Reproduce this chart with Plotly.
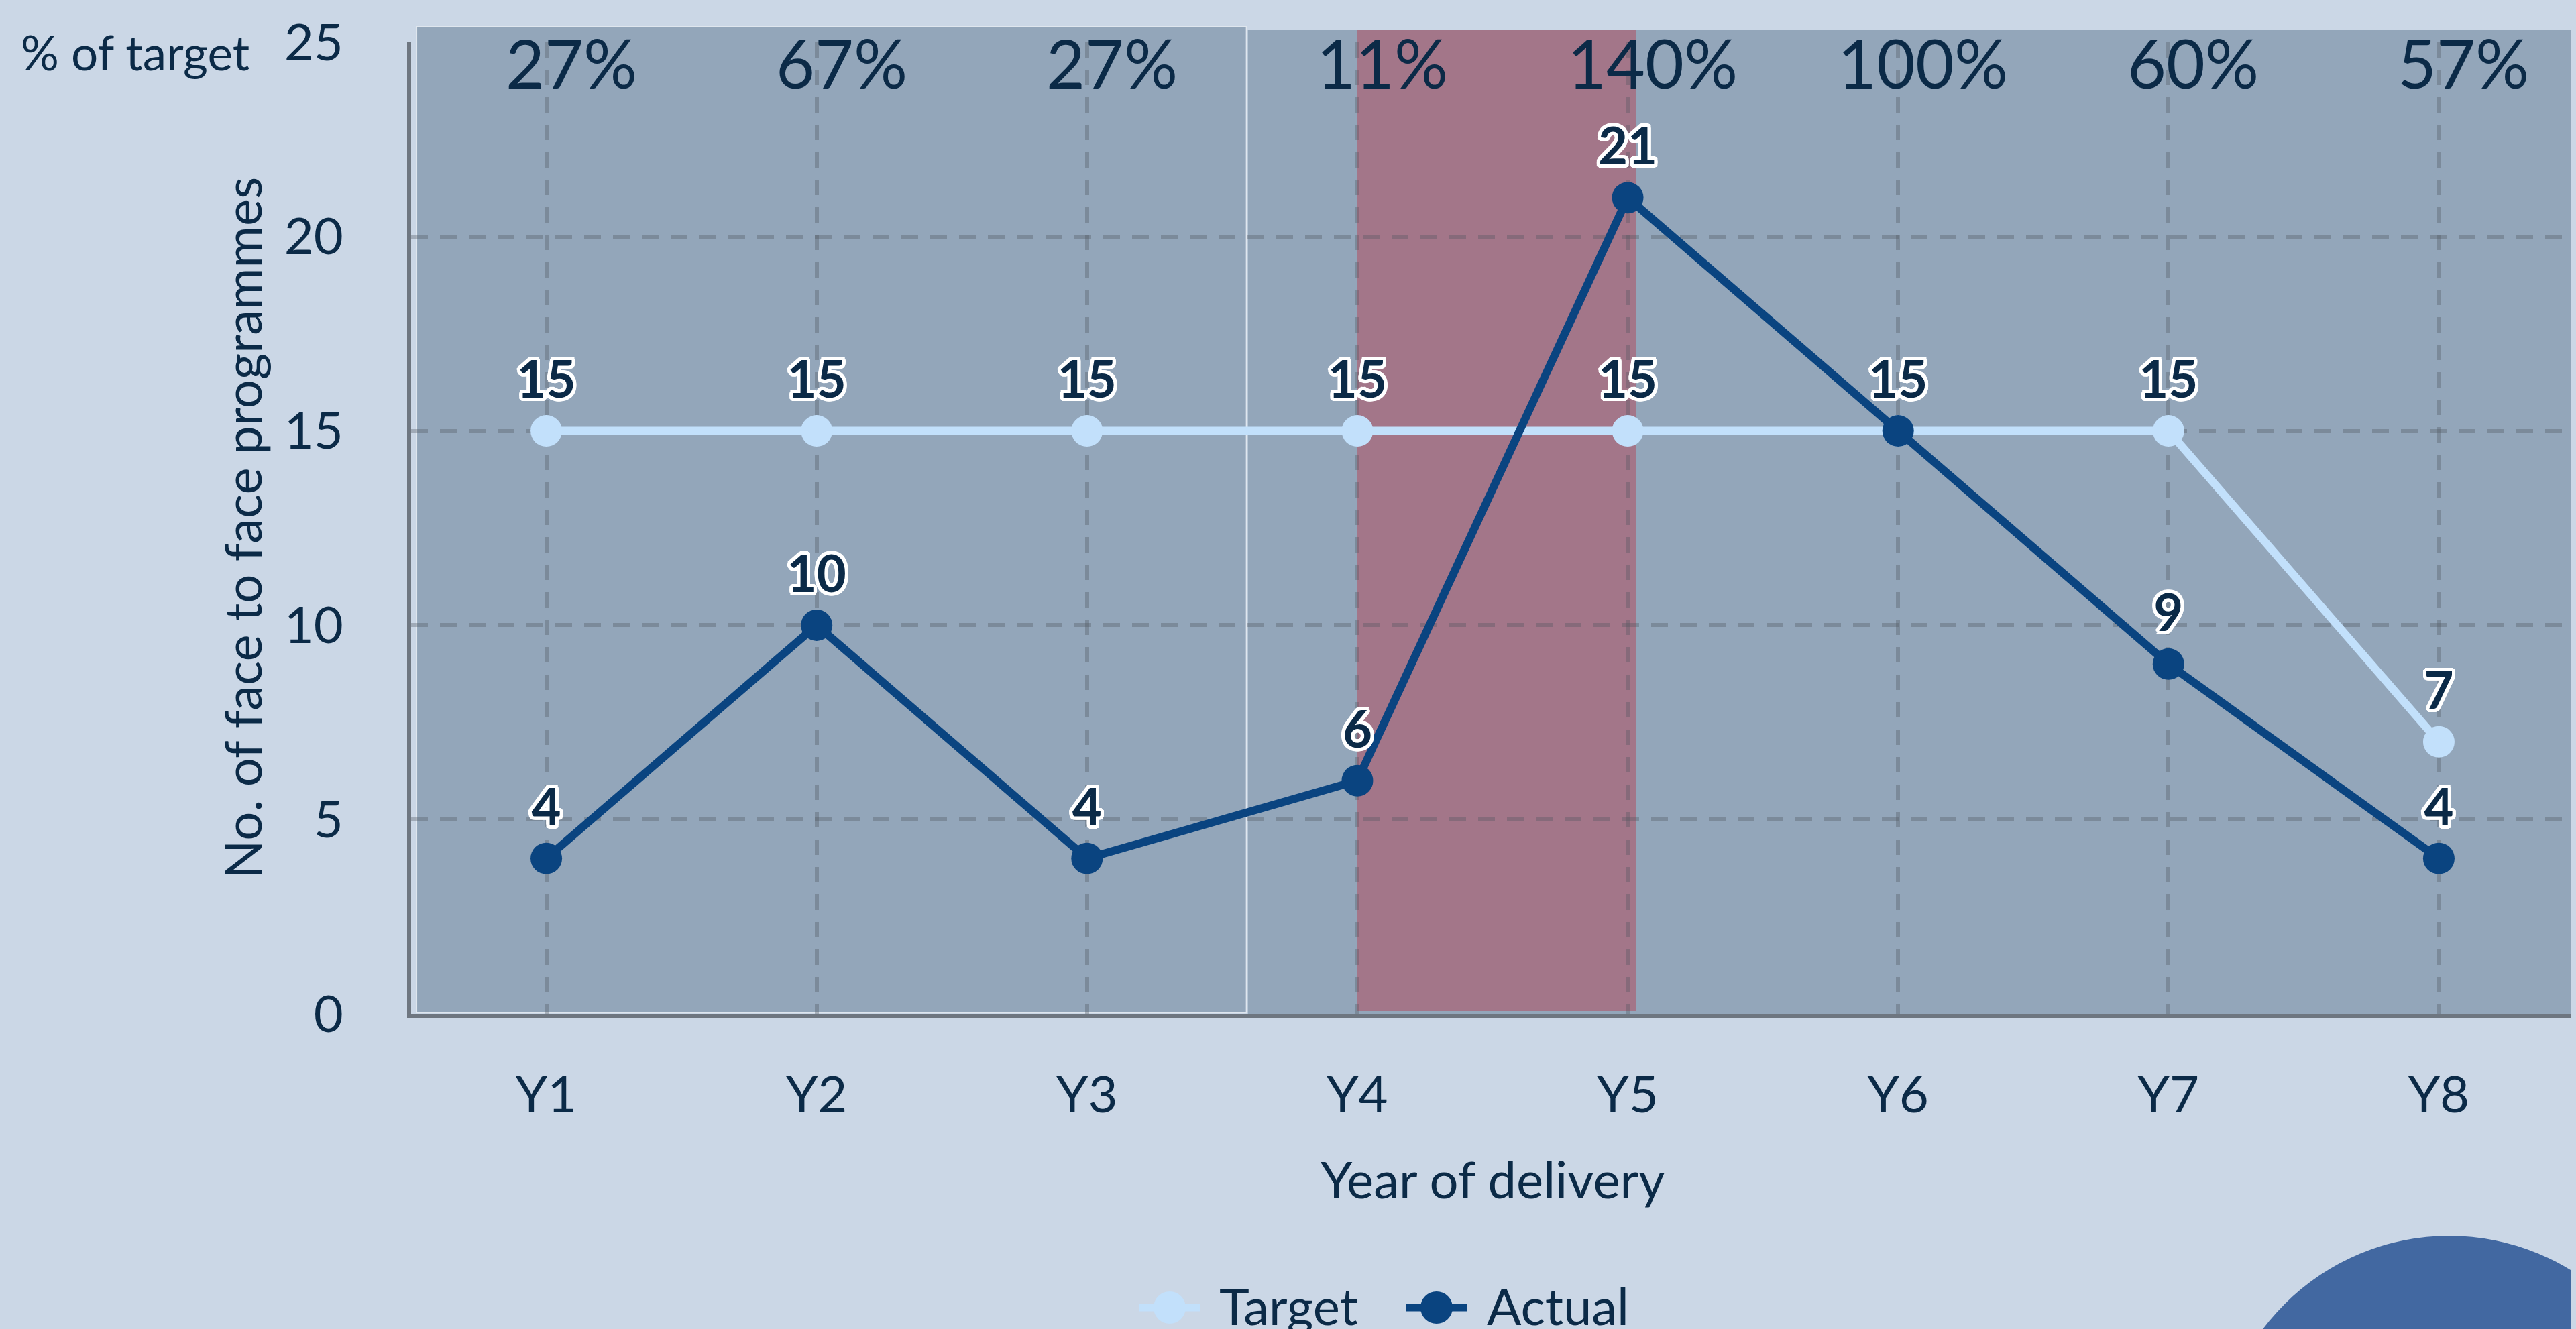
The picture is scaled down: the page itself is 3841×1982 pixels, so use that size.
import plotly.graph_objects as go

# ---- data ----
years = ["Y1", "Y2", "Y3", "Y4", "Y5", "Y6", "Y7", "Y8"]
target = [15, 15, 15, 15, 15, 15, 15, 7]
actual = [4, 10, 4, 6, 21, 15, 9, 4]
pct_of_target = ["27%", "67%", "27%", "11%", "140%", "100%", "60%", "57%"]

# ---- geometry / style ----
W, H = 3841, 1982
OFF = 8  # page body margin offset
L, R, T, B = 605, 11, 55, 478
PW, PH = W - L - R, H - T - B
XR = [-0.5, 7.5]
YR = [0, 25]

BG = "#cbd7e6"
PANEL = "#93a6ba"
RED = "#a37689"
NAVY = "#0b2a47"
TARGET_C = "#c2e0fb"
ACTUAL_C = "#0a4480"
AXIS_C = "#6e7680"
FONT = "Lato"


def px_x(px):
    return (px - OFF - L) / PW


def px_y(py):
    return (H - B - (py - OFF)) / PH


def dx(v):
    return (v - XR[0]) / (XR[1] - XR[0])


s = 5
outline = ", ".join(f"white {a}px {b}px 0px" for a, b in [
    (s, 0), (-s, 0), (0, s), (0, -s), (4, 4), (-4, 4), (4, -4), (-4, -4),
    (2, 5), (-2, 5), (2, -5), (-2, -5), (5, 2), (-5, 2), (5, -2), (-5, -2)])

fig = go.Figure()

fig.add_trace(go.Scatter(
    x=years, y=target, name="Target", mode="lines+markers+text",
    line=dict(color=TARGET_C, width=12),
    marker=dict(color=TARGET_C, size=47),
    text=[str(v) for v in target], textposition="top center",
    textfont=dict(family=FONT, size=76, color=NAVY, weight=700, shadow=outline),
    cliponaxis=False, showlegend=False,
))
fig.add_trace(go.Scatter(
    x=years, y=actual, name="Actual", mode="lines+markers+text",
    line=dict(color=ACTUAL_C, width=12),
    marker=dict(color=ACTUAL_C, size=47),
    text=[str(v) for v in actual], textposition="top center",
    textfont=dict(family=FONT, size=76, color=NAVY, weight=700, shadow=outline),
    cliponaxis=False, showlegend=False,
))

shapes = [
    # background bands
    dict(type="rect", xref="paper", yref="paper", layer="below",
         x0=dx(-0.48), x1=dx(2.59), y0=px_y(1510), y1=px_y(40),
         fillcolor=PANEL, line=dict(color="#dfe6ee", width=2)),
    dict(type="rect", xref="paper", yref="paper", layer="below",
         x0=dx(2.595), x1=1.0, y0=0, y1=px_y(45),
         fillcolor=PANEL, line=dict(width=0)),
    dict(type="rect", xref="paper", yref="paper", layer="below",
         x0=dx(3.0), x1=dx(4.03), y0=px_y(1508), y1=px_y(44),
         fillcolor=RED, line=dict(width=0)),
    # decorative circle
    dict(type="circle", xref="paper", yref="paper", layer="below",
         x0=px_x(3305), x1=px_x(3999), y0=px_y(2537), y1=px_y(1843),
         fillcolor="#4268a1", line=dict(width=0)),
    # custom legend symbols
    dict(type="line", xref="paper", yref="paper",
         x0=px_x(1698), x1=px_x(1790), y0=px_y(1950), y1=px_y(1950),
         line=dict(color=TARGET_C, width=11)),
    dict(type="circle", xref="paper", yref="paper",
         x0=px_x(1744 - 24), x1=px_x(1744 + 24), y0=px_y(1950 + 24), y1=px_y(1950 - 24),
         fillcolor=TARGET_C, line=dict(width=0)),
    dict(type="line", xref="paper", yref="paper",
         x0=px_x(2096), x1=px_x(2188), y0=px_y(1950), y1=px_y(1950),
         line=dict(color=ACTUAL_C, width=11)),
    dict(type="circle", xref="paper", yref="paper",
         x0=px_x(2142 - 24), x1=px_x(2142 + 24), y0=px_y(1950 + 24), y1=px_y(1950 - 24),
         fillcolor=ACTUAL_C, line=dict(width=0)),
]

annotations = []
for yr, p in zip(years, pct_of_target):
    annotations.append(dict(
        x=yr, xref="x", y=px_y(93), yref="paper", text=p, showarrow=False,
        xanchor="center", yanchor="middle", xshift=37,
        font=dict(family=FONT, size=100, color=NAVY)))

annotations += [
    dict(x=px_x(29), y=px_y(77), xref="paper", yref="paper", text="% of target",
         showarrow=False, xanchor="left", yanchor="middle",
         font=dict(family=FONT, size=71, color=NAVY)),
    dict(x=0.5, y=px_y(1757), xref="paper", yref="paper", text="Year of delivery",
         showarrow=False, xanchor="center", yanchor="middle",
         font=dict(family=FONT, size=76, color=NAVY)),
    dict(x=px_x(360), y=0.5, xref="paper", yref="paper", text="No. of face to face programmes",
         showarrow=False, xanchor="center", yanchor="middle", textangle=-90,
         font=dict(family=FONT, size=76, color=NAVY)),
    dict(x=px_x(1816), y=px_y(1946), xref="paper", yref="paper", text="Target",
         showarrow=False, xanchor="left", yanchor="middle",
         font=dict(family=FONT, size=76, color=NAVY)),
    dict(x=px_x(2215), y=px_y(1946), xref="paper", yref="paper", text="Actual",
         showarrow=False, xanchor="left", yanchor="middle",
         font=dict(family=FONT, size=76, color=NAVY)),
]

grid_c = "rgba(80,85,95,0.35)"
fig.update_layout(
    width=W, height=H,
    margin=dict(l=L, r=R, t=T, b=B, autoexpand=False),
    paper_bgcolor=BG, plot_bgcolor="rgba(0,0,0,0)",
    font=dict(family=FONT, color=NAVY),
    shapes=shapes, annotations=annotations, showlegend=False,
    xaxis=dict(
        type="category", range=XR, showgrid=True, gridcolor=grid_c, gridwidth=6,
        griddash="23px,18px", showline=True, linecolor=AXIS_C, linewidth=6,
        ticks="", tickfont=dict(family=FONT, size=76, color=NAVY),
        ticklabelstandoff=50, zeroline=False, fixedrange=True,
    ),
    yaxis=dict(
        range=YR, tickvals=[0, 5, 10, 15, 20, 25], showgrid=True, gridcolor=grid_c,
        gridwidth=6, griddash="25px,18px", showline=True, linecolor=AXIS_C, linewidth=6,
        ticks="", tickfont=dict(family=FONT, size=76, color=NAVY),
        ticklabelstandoff=80, zeroline=False, fixedrange=True,
    ),
)

fig.write_html(
    "out.html",
    post_script="document.documentElement.style.background='#cbd7e6';"
                "document.body.style.background='#cbd7e6';",
)
